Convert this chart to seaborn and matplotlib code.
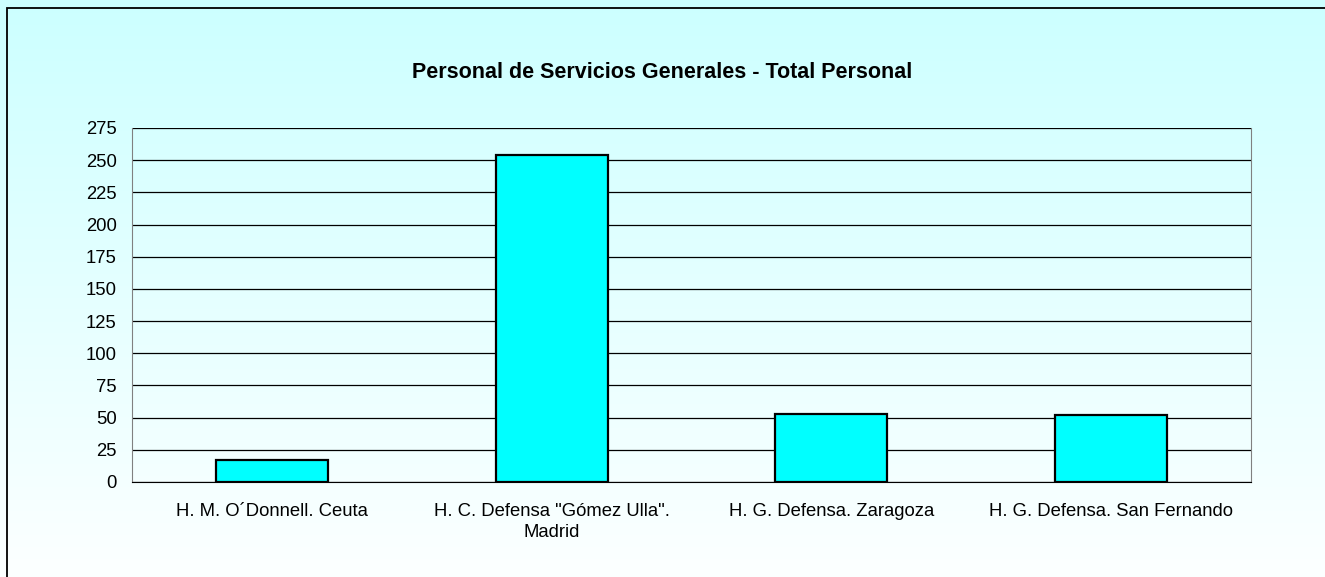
import numpy as np
import pandas as pd
import matplotlib
matplotlib.use("Agg")
import matplotlib.pyplot as plt
import seaborn as sns

categorias = ["H. M. O´Donnell. Ceuta", "H. C. Defensa \"Gómez Ulla\".\nMadrid",
              "H. G. Defensa. Zaragoza", "H. G. Defensa. San Fernando"]
total_personal = [17, 254, 53, 52]
yticks = list(range(0, 276, 25))
titulo = "Personal de Servicios Generales - Total Personal"

sns.set_style("white")
plt.rcParams['font.family'] = ['Liberation Sans', 'DejaVu Sans']
plt.rcParams['text.color'] = 'black'

df = pd.DataFrame({"hospital": categorias, "total": total_personal})

fig = plt.figure(figsize=(13.25, 5.77), dpi=100)

# gradient background (light cyan at top to near white at bottom)
bg = fig.add_axes([0, 0, 1, 1], zorder=-10)
grad = np.linspace(0, 1, 256).reshape(-1, 1)
top = np.array([0.80, 1.0, 1.0])
bot = np.array([0.99, 1.0, 1.0])
img = top + (bot - top) * grad[:, :, None] * np.ones((1, 1, 3))
bg.imshow(img, aspect="auto", extent=[0, 1, 0, 1], origin="upper")
bg.axis("off")
fig.patches.append(plt.Rectangle((7.5 / 1325, -0.05), 1.1, 1 - 8 / 577 + 0.05,
                                 transform=fig.transFigure, fill=False,
                                 edgecolor="black", linewidth=1.3, zorder=5))

ax = fig.add_axes([132 / 1325, 1 - 482 / 577, (1251 - 132) / 1325, (482 - 128) / 577])
ax.patch.set_alpha(0)
sns.barplot(data=df, x="hospital", y="total", color="#00FFFF", width=0.4,
            edgecolor="black", linewidth=1.6, saturation=1, ax=ax, zorder=3)

ax.set_ylim(0, 275)
ax.set_xlim(-0.5, 3.5)
ax.set_yticks(yticks)
ax.yaxis.grid(True, color="black", linewidth=0.9, zorder=0)
ax.set_axisbelow(True)
ax.tick_params(axis="y", length=0, labelsize=13.3, pad=11, colors="black")
ax.tick_params(axis="x", which="major", length=0, labelsize=13.3, pad=15,
               labelcolor="black")
for lbl in ax.get_xticklabels():
    lbl.set_linespacing(1.3)
ax.set_xticks(np.arange(-0.5, 3.6, 1), minor=True)
ax.tick_params(axis="x", which="minor", length=5, color="#555555", direction="out")
ax.set_xlabel("")
ax.set_ylabel("")
for side in ["left", "right"]:
    ax.spines[side].set_color("#808080")
ax.spines["top"].set_visible(False)
ax.spines["bottom"].set_color("black")

fig.text(662 / 1325, 1 - 73 / 577, titulo, ha="center", va="center",
         fontsize=15.5, fontweight="bold")

fig.savefig("out.png", dpi=100)
